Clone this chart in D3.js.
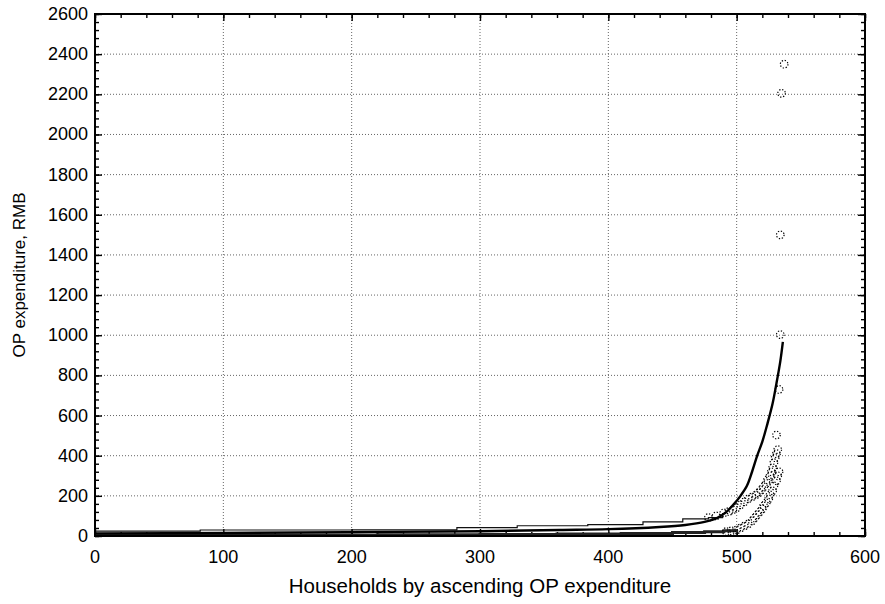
<!DOCTYPE html>
<html><head><meta charset="utf-8">
<script src="https://cdn.jsdelivr.net/npm/d3@7"></script>
<style>body{margin:0;background:#fff}svg{display:block}text{font-family:"Liberation Sans",Arial,sans-serif;fill:#000}</style>
</head><body><svg id="c" width="885" height="604"></svg>
<script>
// ---- data ----
const xTicks = [0,100,200,300,400,500,600];
const yTicks = [0,200,400,600,800,1000,1200,1400,1600,1800,2000,2200,2400,2600];
// fitted curve
const fitX = [0,100,200,300,362,400,440,460,475,485,492,498,503,508,512,516,520,524,528,531,534,536];
const fitY = [13,15,19,24,30,34,45,55,70,90,120,160,200,250,320,400,470,560,660,760,870,967];
// upper step line (observed, upper band)
const upX = [0,82,200,282,329,384,427,458,478,489];
const upY = [24,30,31,42,51,57,70,85,92,115];
// lower dense band (observed, lower band)
const loX = [0,120,220,300,360,410,450,475,490,500];
const loY = [3,4,6,8,10,13,17,21,26,30];
// sparse tail observations (markers)
const ptX = [537,535,534,534,533,531,
  478,484,490,494,497,500,503,506,509,512,515,517,519,521,523,524,526,527,528,529,530,531,532,
  492,496,500,503,506,509,512,514,516,518,520,521,523,525,526,528,529,531,532,533];
const ptY = [2350,2205,1500,1003,730,503,
  92,100,115,122,130,140,155,170,185,195,205,215,228,245,262,280,300,320,340,365,390,410,430,
  22,26,30,40,50,60,75,90,105,120,135,150,165,185,205,225,250,275,300,320];

// ---- chart ----
const svg = d3.select('#c');
const L=95,R=865,T=14,B=536;
const x = d3.scaleLinear().domain([0,600]).range([L,R]);
const y = d3.scaleLinear().domain([0,2600]).range([B,T]);

// grid
const g = svg.append('g');
g.selectAll('.gx').data(xTicks.slice(1,-1)).join('line')
  .attr('x1',d=>x(d)).attr('x2',d=>x(d)).attr('y1',T).attr('y2',B)
  .attr('stroke','#666').attr('stroke-width',1).attr('stroke-dasharray','1,2');
g.selectAll('.gy').data(yTicks.slice(1,-1)).join('line')
  .attr('y1',d=>y(d)).attr('y2',d=>y(d)).attr('x1',L).attr('x2',R)
  .attr('stroke','#666').attr('stroke-width',1).attr('stroke-dasharray','1,2');

// axes with inward ticks on all sides
const xMinor = d3.range(0,601,20), yMinor = d3.range(0,2601,40);
function tickAxis(axisFn, scale, ticks, minor, tr, majorLen, minorLen){
  const a = svg.append('g').attr('transform',tr);
  a.call(axisFn(scale).tickValues(minor).tickSize(minorLen).tickFormat(''));
  a.call(g2=>g2.select('.domain').remove());
  const b = svg.append('g').attr('transform',tr);
  b.call(axisFn(scale).tickValues(ticks).tickSize(majorLen).tickFormat(''));
  b.call(g2=>g2.select('.domain').remove());
  svg.selectAll('.tick line').attr('stroke','#000').attr('stroke-width',1.4);
}
tickAxis(d3.axisTop, x, xTicks, xMinor, `translate(0,${B})`, 7, 4);
tickAxis(d3.axisBottom, x, xTicks, xMinor, `translate(0,${T})`, 7, 4);
tickAxis(d3.axisRight, y, yTicks, yMinor, `translate(${L},0)`, 7, 4);
tickAxis(d3.axisLeft, y, yTicks, yMinor, `translate(${R},0)`, 7, 4);

// labels
svg.append('g').selectAll('text').data(xTicks).join('text')
  .attr('x',d=>x(d)).attr('y',563).attr('text-anchor','middle')
  .style('font-size','18px').text(d=>d);
svg.append('g').selectAll('text').data(yTicks).join('text')
  .attr('x',88).attr('y',d=>y(d)+6).attr('text-anchor','end')
  .style('font-size','18px').text(d=>d);
svg.append('text').attr('x',480).attr('y',593).attr('text-anchor','middle')
  .style('font-size','20.5px').text('Households by ascending OP expenditure');
svg.append('text').attr('transform',`translate(25,${(T+B)/2}) rotate(-90)`)
  .attr('text-anchor','middle').style('font-size','17px').text('OP expenditure, RMB');

// data
const line = d3.line().x(d=>x(d[0])).y(d=>y(d[1]));
svg.append('clipPath').attr('id','pc').append('rect')
  .attr('x',L).attr('y',T).attr('width',R-L).attr('height',B-T);
const pg = svg.append('g').attr('clip-path','url(#pc)');
pg.append('path').datum(d3.zip(loX,loY)).attr('d',line.curve(d3.curveStepAfter))
  .attr('fill','none').attr('stroke','#222').attr('stroke-width',3);
pg.append('path').datum(d3.zip(upX,upY)).attr('d',line.curve(d3.curveStepAfter))
  .attr('fill','none').attr('stroke','#111').attr('stroke-width',1.2);
pg.append('path').datum(d3.zip(fitX,fitY)).attr('d',line.curve(d3.curveCatmullRom))
  .attr('fill','none').attr('stroke','#000').attr('stroke-width',2.4);
pg.selectAll('circle').data(d3.zip(ptX,ptY)).join('circle')
  .attr('cx',d=>x(d[0])).attr('cy',d=>y(d[1])).attr('r',3.8)
  .attr('fill','none').attr('stroke','#000').attr('stroke-width',1.2).attr('stroke-dasharray','1.3,1.7');

// frame
svg.append('rect').attr('x',L).attr('y',T).attr('width',R-L).attr('height',B-T)
  .attr('fill','none').attr('stroke','#000').attr('stroke-width',2);
</script></body></html>
